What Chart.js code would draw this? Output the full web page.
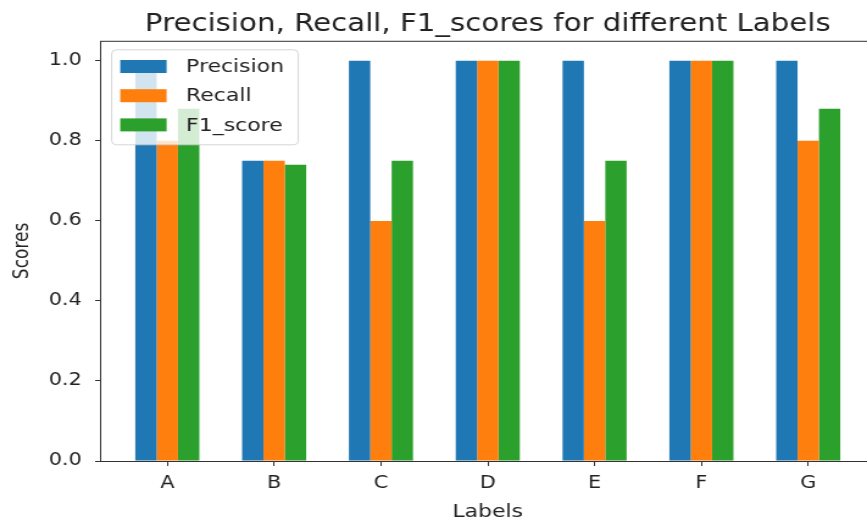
<!DOCTYPE html>
<html>
<head>
<meta charset="utf-8">
<script src="https://cdn.jsdelivr.net/npm/chart.js@4.4.1/dist/chart.umd.min.js"></script>
<style>
  html, body { margin: 0; padding: 0; background: #fff; overflow: hidden; width: 867px; height: 520px; }
  /* the reference is a horizontally stretched matplotlib figure, so stretch the same way;
     the canvas is a bit wider than the wrapper so the right spine is cut off like in the reference */
  #wrap { position: absolute; left: 0; top: 0; width: 711px; height: 520px; overflow: hidden;
          transform: scaleX(1.2194); transform-origin: 0 0; }
  #chart { display: block; }
</style>
</head>
<body>
<div id="wrap"><canvas id="chart" width="730" height="520"></canvas></div>
<script>
// ── data ──────────────────────────────────
var xLabels     = ['A', 'B', 'C', 'D', 'E', 'F', 'G'];
var seriesNames = ['Precision', 'Recall', 'F1_score'];
var precision   = [1.0, 0.75, 1.0, 1.0, 1.0, 1.0, 1.0];
var recall      = [0.8, 0.75, 0.6, 1.0, 0.6, 1.0, 0.8];
var f1Scores    = [0.88, 0.74, 0.75, 1.0, 0.75, 1.0, 0.88];
var yTicks      = [0.0, 0.2, 0.4, 0.6, 0.8, 1.0];

var COLORS = ['#1f77b4', '#ff7f0e', '#2ca02c'];
var TEXT   = '#222';
var FONT   = 'DejaVu Sans';

function toPoints(arr) {
  return arr.map(function (v, i) { return { x: i, y: v }; });
}

// axes frame (all four spines; the right one lands outside the picture)
var framePlugin = {
  id: 'frame',
  afterDatasetsDraw: function (chart) {
    var a = chart.chartArea, ctx = chart.ctx;
    ctx.save();
    ctx.strokeStyle = '#333';
    ctx.lineWidth = 1;
    ctx.strokeRect(a.left + 0.5, a.top + 0.5, a.right - a.left, a.bottom - a.top);
    ctx.restore();
  }
};

// matplotlib-style legend in the upper left of the axes
var boxLegend = {
  id: 'boxLegend',
  afterDraw: function (chart) {
    var a = chart.chartArea, ctx = chart.ctx;
    var x = a.left + 9.6, y = a.top + 9, w = 153, h = 95, r = 4;
    ctx.save();
    ctx.globalAlpha = 0.8;
    ctx.beginPath();
    ctx.moveTo(x + r, y);
    ctx.lineTo(x + w - r, y); ctx.quadraticCurveTo(x + w, y, x + w, y + r);
    ctx.lineTo(x + w, y + h - r); ctx.quadraticCurveTo(x + w, y + h, x + w - r, y + h);
    ctx.lineTo(x + r, y + h); ctx.quadraticCurveTo(x, y + h, x, y + h - r);
    ctx.lineTo(x, y + r); ctx.quadraticCurveTo(x, y, x + r, y);
    ctx.closePath();
    ctx.fillStyle = '#fff';
    ctx.fill();
    ctx.strokeStyle = '#ccc';
    ctx.lineWidth = 1;
    ctx.stroke();
    ctx.globalAlpha = 1;
    ctx.font = '18px "' + FONT + '"';
    ctx.textBaseline = 'middle';
    chart.data.datasets.forEach(function (ds, i) {
      var cy = y + 16.7 + i * 29.2;
      ctx.fillStyle = ds.backgroundColor;
      ctx.fillRect(x + 7, cy - 6.5, 38, 13);
      ctx.fillStyle = TEXT;
      ctx.fillText(ds.label, x + 61, cy + 1);
    });
    ctx.restore();
  }
};

Chart.defaults.font.family = FONT;

new Chart(document.getElementById('chart'), {
  type: 'bar',
  data: {
    datasets: [
      { label: seriesNames[0], data: toPoints(precision), backgroundColor: COLORS[0] },
      { label: seriesNames[1], data: toPoints(recall),    backgroundColor: COLORS[1] },
      { label: seriesNames[2], data: toPoints(f1Scores),  backgroundColor: COLORS[2] },
    ],
  },
  options: {
    responsive: false,
    animation: false,
    devicePixelRatio: 1,
    layout: { padding: { left: 0, right: 12, top: 0, bottom: 0 } },
    datasets: { bar: { categoryPercentage: 0.6, barPercentage: 1.0, borderWidth: 0 } },
    plugins: {
      legend: { display: false },
      tooltip: { enabled: false },
      title: {
        display: true,
        text: 'Precision, Recall, F1_scores for different Labels',
        fullSize: false,
        color: TEXT,
        font: { size: 24, weight: 'normal' },
        padding: { top: 10, bottom: 2 },
      },
    },
    scales: {
      x: {
        type: 'linear',
        min: -0.63, max: 6.63,
        offset: false,
        afterBuildTicks: function (s) { s.ticks = xLabels.map(function (_, i) { return { value: i }; }); },
        afterFit: function (s) { s.height = 59; },
        ticks: {
          callback: function (v) { return xLabels[v]; },
          color: TEXT, font: { size: 17 }, padding: 7, maxRotation: 0, autoSkip: false,
        },
        grid: { display: true, drawOnChartArea: false, offset: false, tickLength: 5, tickColor: '#333' },
        border: { display: false },
        title: { display: true, text: 'Labels', color: TEXT, font: { size: 18, lineHeight: 0.9 }, padding: 0 },
      },
      y: {
        min: 0, max: 1.05,
        afterBuildTicks: function (s) { s.ticks = yTicks.map(function (v) { return { value: v }; }); },
        afterFit: function (s) { s.width = 82; },
        ticks: {
          callback: function (v) { return v.toFixed(1); },
          color: TEXT, font: { size: 17 }, padding: 11,
        },
        grid: { display: true, drawOnChartArea: false, tickLength: 4, tickColor: '#333' },
        border: { display: false },
        title: { display: true, text: 'Scores', color: TEXT, font: { size: 17 }, padding: { top: 8, bottom: 0 } },
      },
    },
  },
  plugins: [framePlugin, boxLegend],
});
</script>
</body>
</html>
